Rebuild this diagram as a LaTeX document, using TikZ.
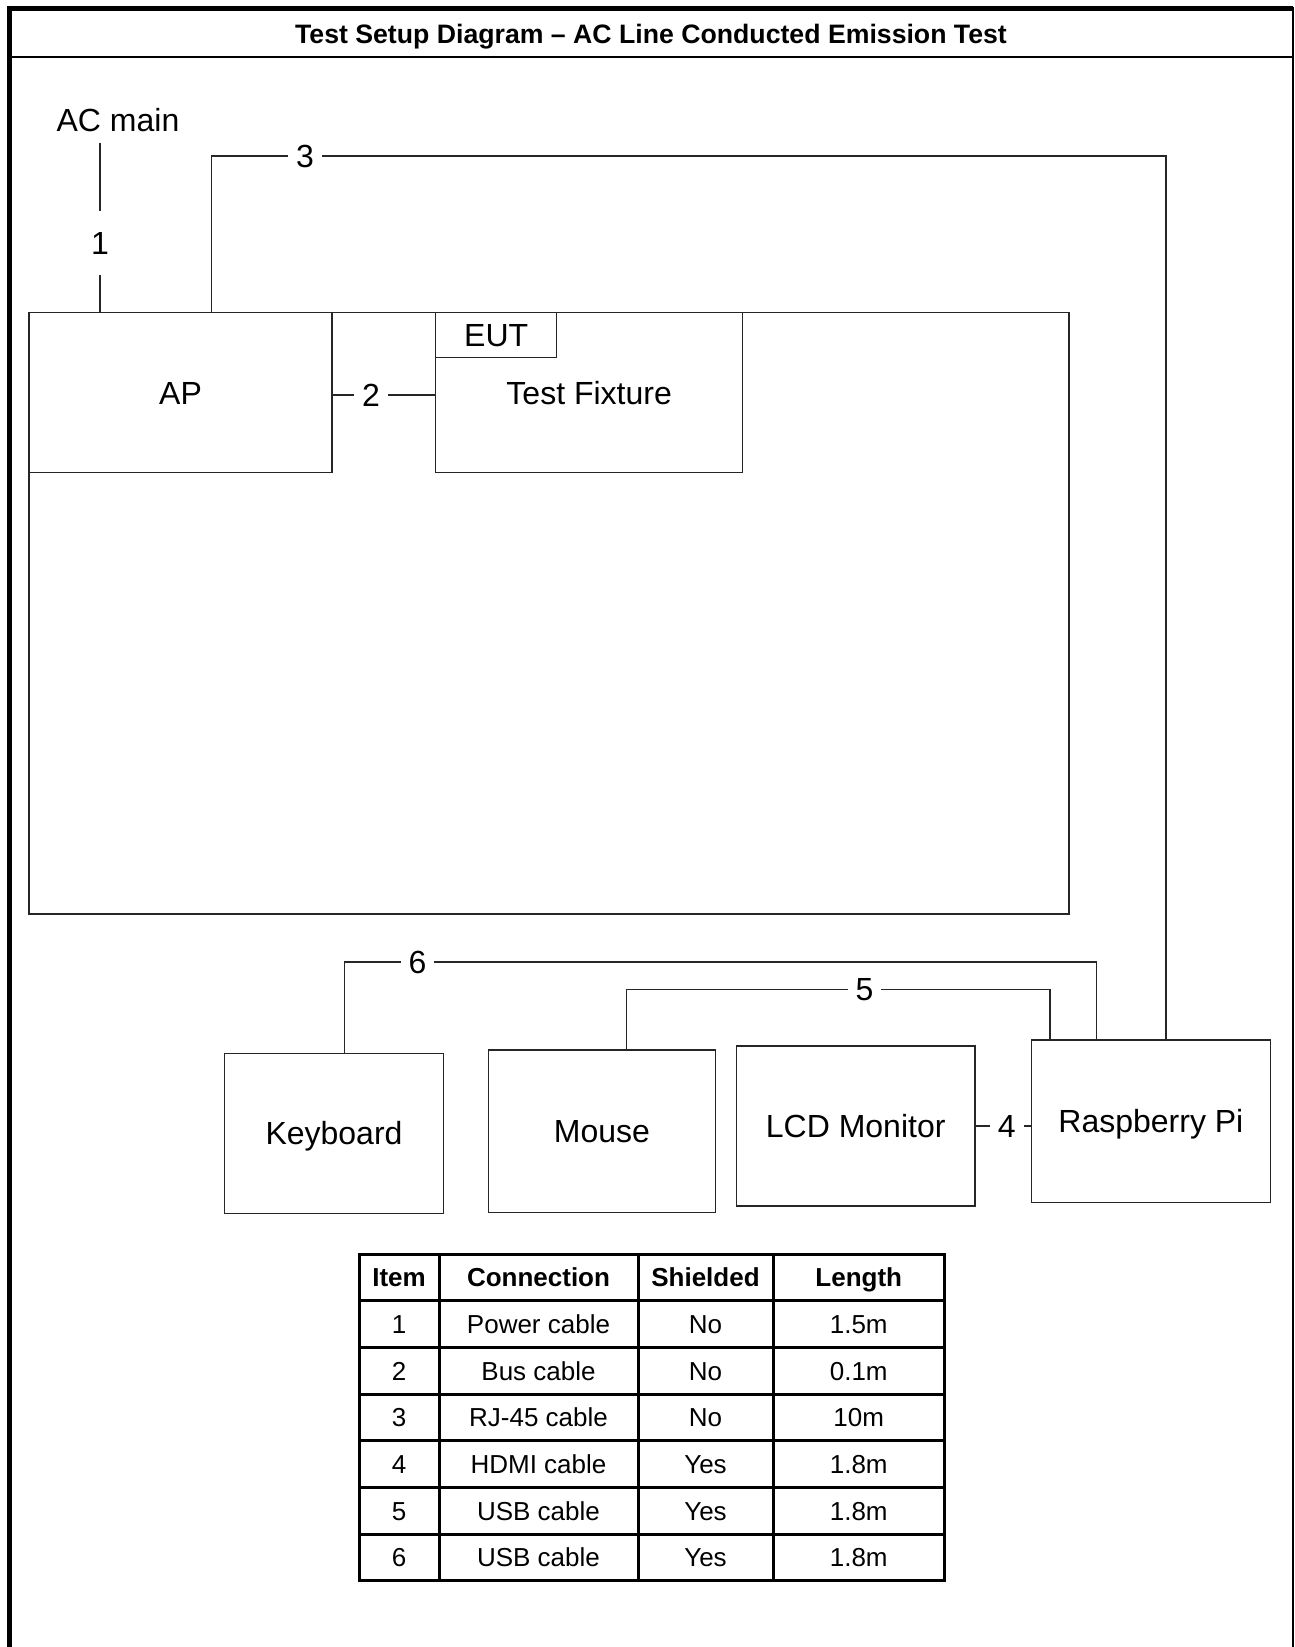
\documentclass[tikz,border=0pt]{standalone}
\usepackage{fontspec}
\setmainfont{Liberation Sans}
\begin{document}
\begin{tikzpicture}[x=0.75pt,y=-0.75pt,
 wire/.style={line width=1.1pt, draw=black!85},
 unit/.style={draw=black!85, line width=1.1pt, inner sep=0pt, outer sep=0pt, font=\fontsize{24}{28}\selectfont, text height=17.2pt, text depth=0pt},
 lbl/.style={inner xsep=6pt, inner ysep=2pt, outer sep=0pt, font=\fontsize{24}{28}\selectfont, text height=17.2pt, text depth=0pt},
 cell/.style={draw=black, line width=2.25pt, inner sep=0pt, outer sep=0pt, minimum height=35.025pt, font=\fontsize{19.5}{23}\selectfont, text height=14pt, text depth=0pt},
 hcell/.style={cell, font=\bfseries\fontsize{19.5}{23}\selectfont}]

\useasboundingbox (0,0) rectangle (1295,1647);

% outer frame
\draw[line width=3.75pt] (9.5,1650) -- (9.5,8.5) -- (1293,8.5);
\draw[line width=2pt] (1293,6.5) -- (1293,1650);
\draw[line width=1.9pt] (9.5,57) -- (1293,57);
\node[font=\bfseries\fontsize{20}{24}\selectfont, text height=14.3pt, text depth=0pt, inner sep=0pt] (title) at (651,34) {Test Setup Diagram -- AC Line Conducted Emission Test};

% units
\node[unit, minimum width=780pt, minimum height=451.1pt] (bench) at (549,613.25) {};
\node[unit, minimum width=227.25pt, minimum height=120.15pt] (ap) at (180.5,392.6) {AP};
\node[unit, minimum width=230.2pt, minimum height=120.15pt] (tf) at (589.15,392.6) {Test Fixture};
\node[unit, minimum width=90.75pt, minimum height=33.6pt] (eut) at (496.2,334.9) {EUT};
\node[unit, minimum width=164.2pt, minimum height=120.2pt] (kb) at (334,1133.5) {Keyboard};
\node[unit, minimum width=170.25pt, minimum height=121.7pt] (mouse) at (601.9,1131.2) {Mouse};
\node[unit, minimum width=179.1pt, minimum height=120pt] (lcd) at (855.7,1126) {LCD Monitor};
\node[unit, minimum width=179.4pt, minimum height=121.9pt] (rpi) at (1150.9,1121.25) {Raspberry Pi};

% labels
\node[lbl, inner ysep=8pt] (acmain) at (118,120.5) {AC main};
\node[lbl, inner ysep=15.4pt] (l1) at (100,243) {1};
\node[lbl] (l2) at (371,395) {2};
\node[lbl] (l3) at (305,156) {3};
\node[lbl] (l4) at (1006.7,1126) {4};
\node[lbl] (l5) at (864.5,989.3) {5};
\node[lbl] (l6) at (417.5,962) {6};

% connectors
\draw[wire] (acmain.south -| l1) -- (l1.north);
\draw[wire] (l1.south) -- (l1 |- ap.north);

\coordinate (a3) at (211.7,156);
\coordinate (r3) at (1165.8,156);
\draw[wire] (ap.north -| a3) -- (a3) -- (l3.west);
\draw[wire] (l3.east) -- (r3) -- (r3 |- rpi.north);

\draw[wire] (ap.east |- l2) -- (l2.west);
\draw[wire] (l2.east) -- (l2 -| tf.west);

\draw[wire] (lcd.east |- l4) -- (l4.west);
\draw[wire] (l4.east) -- (l4 -| rpi.west);

\coordinate (k6) at (344.6,962);
\coordinate (r6) at (1096.6,962);
\draw[wire] (kb.north -| k6) -- (k6) -- (l6.west);
\draw[wire] (l6.east) -- (r6) -- (r6 |- rpi.north);

\coordinate (m5) at (626.7,989.3);
\coordinate (r5) at (1049.9,989.3);
\draw[wire] (mouse.north -| m5) -- (m5) -- (l5.west);
\draw[wire] (l5.east) -- (r5) -- (r5 |- rpi.north);

% table
\node[hcell, minimum width=60pt] (h1) at (399,1277.35) {Item};
\node[hcell, minimum width=149.25pt] (h2) at (538.5,1277.35) {Connection};
\node[hcell, minimum width=101.25pt] (h3) at (705.5,1277.35) {Shielded};
\node[hcell, minimum width=128.625pt] (h4) at (858.75,1277.35) {Length};
\foreach \r/\a/\b/\c/\d in {1/1/Power cable/No/1.5m,2/2/Bus cable/No/0.1m,3/3/RJ-45 cable/No/10m,4/4/HDMI cable/Yes/1.8m,5/5/USB cable/Yes/1.8m,6/6/USB cable/Yes/1.8m}{
  \pgfmathsetmacro\yy{1277.35+46.7*\r}
  \node[cell, minimum width=60pt] (t\r a) at (399,\yy) {\a};
  \node[cell, minimum width=149.25pt] (t\r b) at (538.5,\yy) {\b};
  \node[cell, minimum width=101.25pt] (t\r c) at (705.5,\yy) {\c};
  \node[cell, minimum width=128.625pt] (t\r d) at (858.75,\yy) {\d};
}
\end{tikzpicture}
\end{document}
